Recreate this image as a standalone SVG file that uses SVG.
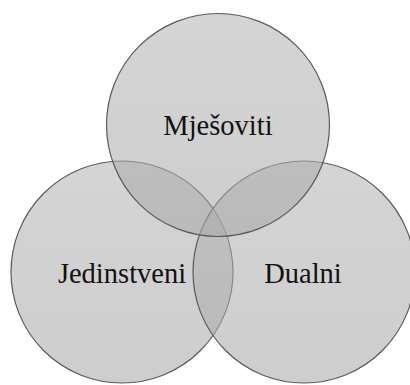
<svg xmlns="http://www.w3.org/2000/svg" width="410" height="385" viewBox="0 0 410 385">
  <defs>
    <linearGradient id="g" x1="0" y1="0" x2="0" y2="1">
      <stop offset="0" stop-color="#b4b4b4"/>
      <stop offset="1" stop-color="#a8a8a8"/>
    </linearGradient>
  </defs>
  <style>
    .c { fill: url(#g); fill-opacity: 0.57; stroke: #5a5a5a; stroke-width: 1.2; }
    .t { font-family: "Liberation Serif", "Times New Roman", serif; font-size: 28.5px; fill: #111; text-anchor: middle; }
  </style>
  <rect width="410" height="385" fill="#ffffff"/>
  <g id="jedinstveni">
    <circle class="c" cx="122" cy="272" r="111"/>
  </g>
  <g id="dualni">
    <circle class="c" cx="304" cy="272" r="111"/>
  </g>
  <g id="mjesoviti">
    <circle class="c" cx="218" cy="125" r="111.5"/>
  </g>
  <g id="labels">
    <text class="t" x="218" y="135">Mješoviti</text>
    <text class="t" x="122" y="283">Jedinstveni</text>
    <text class="t" x="303" y="283">Dualni</text>
  </g>
  <g id="connectors"/>
</svg>
